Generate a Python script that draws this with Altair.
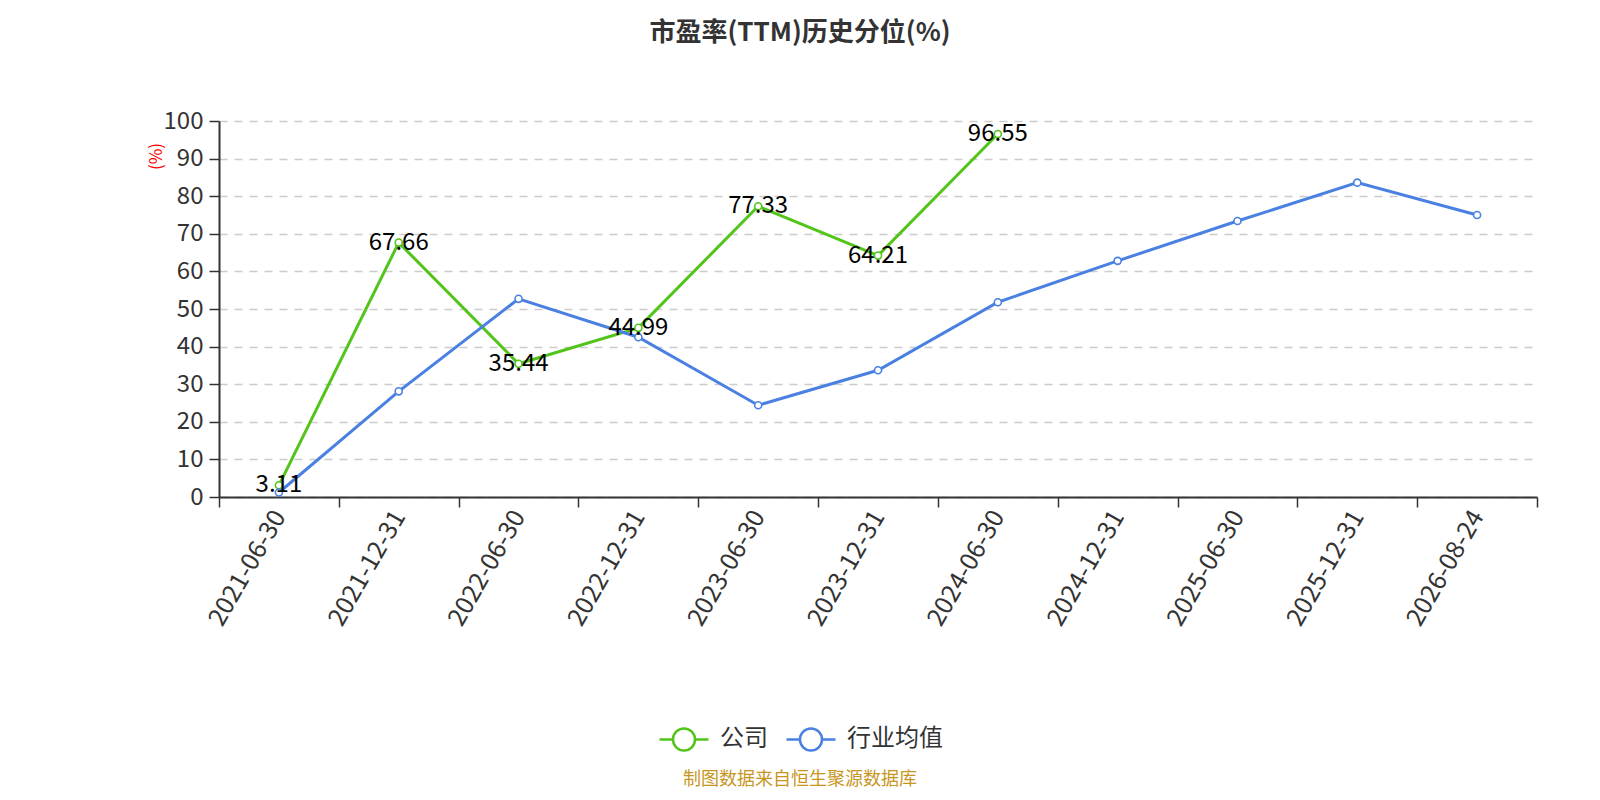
import altair as alt
import pandas as pd

dates = ["2021-06-30", "2021-12-31", "2022-06-30", "2022-12-31", "2023-06-30",
         "2023-12-31", "2024-06-30", "2024-12-31", "2025-06-30", "2025-12-31", "2026-08-24"]
company = [3.11, 67.66, 35.44, 44.99, 77.33, 64.21, 96.55, None, None, None, None]
industry = [1.2, 28.1, 52.7, 42.5, 24.4, 33.7, 51.8, 62.8, 73.4, 83.6, 75.0]
series_names = ["公司", "行业均值"]
colors = ["#52c41a", "#4a80e2"]

rows = []
for d, c, i in zip(dates, company, industry):
    if c is not None:
        rows.append({"date": d, "series": series_names[0], "value": c})
    rows.append({"date": d, "series": series_names[1], "value": i})
df = pd.DataFrame(rows)

FONT = "Noto Sans CJK SC"

xenc = alt.X(
    "date:O", sort=dates, bandPosition=0.5,
    scale=alt.Scale(type="band", paddingInner=0, paddingOuter=0),
    axis=alt.Axis(title=None, labelAngle=-60, labelAlign="right", labelBaseline="middle",
                  labelFontSize=25, labelColor="#333", labelPadding=5, labelFont=FONT,
                  tickBand="extent", tickSize=10, tickColor="#333", tickWidth=1.5,
                  domainColor="#333", domainWidth=2, grid=False),
)
yenc = alt.Y(
    "value:Q",
    scale=alt.Scale(domain=[0, 100], nice=False),
    axis=alt.Axis(title="(%)", titleColor="red", titleFontSize=17, titleFontWeight="normal",
                  titleFont=FONT, titleX=-63, titleY=35, titleAngle=-90,
                  titleAlign="center", titleBaseline="middle",
                  values=list(range(0, 101, 10)), labelFontSize=24, labelColor="#333",
                  labelFont=FONT, labelPadding=6,
                  tickSize=10, tickColor="#333", tickWidth=1.5,
                  domainColor="#333", domainWidth=2,
                  grid=True, gridColor="#cccccc", gridDash=[8, 7], gridWidth=1.5),
)

legend_path = "M -1 0 L -0.45 0 M 0.45 0 L 1 0 M 0.45 0 A 0.45 0.45 0 1 1 -0.45 0 A 0.45 0.45 0 1 1 0.45 0"

color_scale = alt.Scale(domain=series_names, range=colors)

line = alt.Chart(df).mark_line(strokeWidth=3).encode(
    x=xenc, y=yenc,
    color=alt.Color("series:N", scale=color_scale, sort=series_names,
                    legend=alt.Legend(title=None, orient="none", direction="horizontal",
                                      legendX=439, legendY=592,
                                      symbolType=legend_path, symbolSize=2400,
                                      symbolStrokeWidth=2.5, labelFontSize=24,
                                      labelColor="#333", labelFont=FONT,
                                      columnPadding=13, labelOffset=10)),
)

points = alt.Chart(df).mark_point(size=50, strokeWidth=1.6, opacity=1).encode(
    x=xenc, y=yenc,
    stroke=alt.Color("series:N", scale=color_scale, legend=None),
    fill=alt.value("white"),
)

labels = alt.Chart(df).transform_filter(
    alt.datum.series == series_names[0]
).mark_text(fontSize=24, color="#000", align="center", baseline="middle", font=FONT).encode(
    x=xenc, y=yenc,
    text=alt.Text("value:Q", format=".2f"),
)

source = alt.Chart(pd.DataFrame({"t": ["制图数据来自恒生聚源数据库"]})).mark_text(
    fontSize=18, color="#c8961e", font=FONT, align="center", baseline="middle"
).encode(x=alt.value(581), y=alt.value(659), text="t:N")

chart = alt.layer(line, points, labels, source).properties(
    width=1318, height=376,
    background="white",
    autosize=alt.AutoSizeParams(type="none"),
    padding={"left": 211, "top": 113, "right": 50, "bottom": 294},
    title=alt.Title("市盈率(TTM)历史分位(%)", fontSize=26, fontWeight="bold", color="#333",
                    font=FONT, anchor="middle", dx=-78, offset=63),
).configure_view(stroke=None)

chart.save("out.html", embed_options={"renderer": "svg", "actions": False})
